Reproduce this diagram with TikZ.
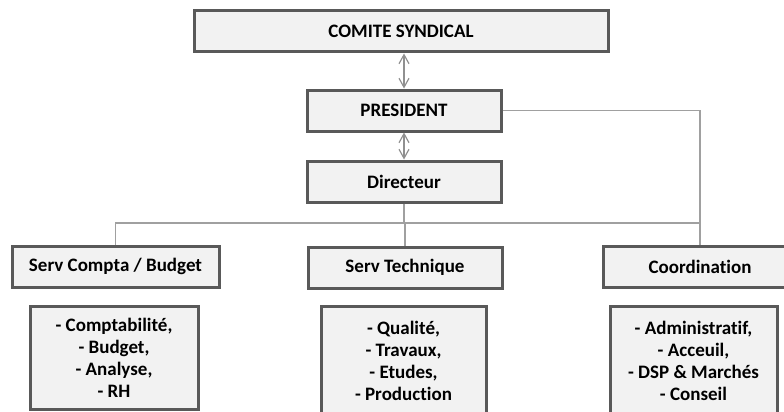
\documentclass[tikz,border=0pt]{standalone}
\usepackage{fontspec}
\setmainfont{Carlito}[Ligatures=NoCommon]
\usetikzlibrary{arrows.meta}

\definecolor{boxfill}{HTML}{F2F2F2}
\definecolor{boxline}{HTML}{595959}
\definecolor{linkgray}{HTML}{A0A0A0}

\tikzset{
  orgbox/.style={draw=boxline,line width=3pt,fill=boxfill,rectangle,inner sep=0pt,
    font=\fontsize{19}{22}\selectfont\bfseries,align=center},
  link/.style={draw=linkgray,line width=1.2pt},
  twoway/.style={draw=linkgray!90!black,line width=1.2pt,
    {Straight Barb[length=9pt,width=10pt]}-{Straight Barb[length=9pt,width=10pt]}}
}

\begin{document}
\begin{tikzpicture}[x=1pt,y=-1pt]
      \useasboundingbox (0,0) rectangle (784,412);
      \clip (0,0) rectangle (784,412);
      \node[orgbox,minimum width=414,minimum height=41] (comite) at (401,31.5) {COMITE SYNDICAL};
      \node[orgbox,minimum width=194,minimum height=41] (president) at (404,110.5) {PRESIDENT};
      \node[orgbox,minimum width=194,minimum height=41] (directeur) at (404,181.5) {Directeur};
      \draw[twoway] (president.north |- comite.south) -- (president.north);
      \draw[twoway] (directeur.north |- president.south) -- (directeur.north);
      \node[orgbox,minimum width=207,minimum height=41] (compta) at (115.5,266.5) {Serv Compta / Budget};
      \node[orgbox,minimum width=194,minimum height=41] (technique) at (405,267.5) {Serv Technique};
      \node[orgbox,minimum width=194,minimum height=41] (coordination) at (700,266.5) {Coordination};
      \coordinate (split) at (404,223);
      \draw[link] (directeur.south) -- (split);
      \draw[link] (split -| technique.north) -- (technique.north);
      \draw[link] (compta.north) |- (split -| coordination.north);
      \draw[link] (president.east) -| (coordination.north);
      \node[orgbox,minimum width=168,minimum height=103] (comptalist) at (114,357.5)
        {- Comptabilité,\\- Budget,\\- Analyse,\\- RH};
      \node[orgbox,minimum width=165,minimum height=110] (techniquelist) at (403.5,361)
        {- Qualité,\\- Travaux,\\- Etudes,\\- Production};
      \node[orgbox,minimum width=167,minimum height=110] (coordinationlist) at (693.5,361)
        {- Administratif,\\- Acceuil,\\- DSP \& Marchés\\- Conseil};
\end{tikzpicture}
\end{document}
